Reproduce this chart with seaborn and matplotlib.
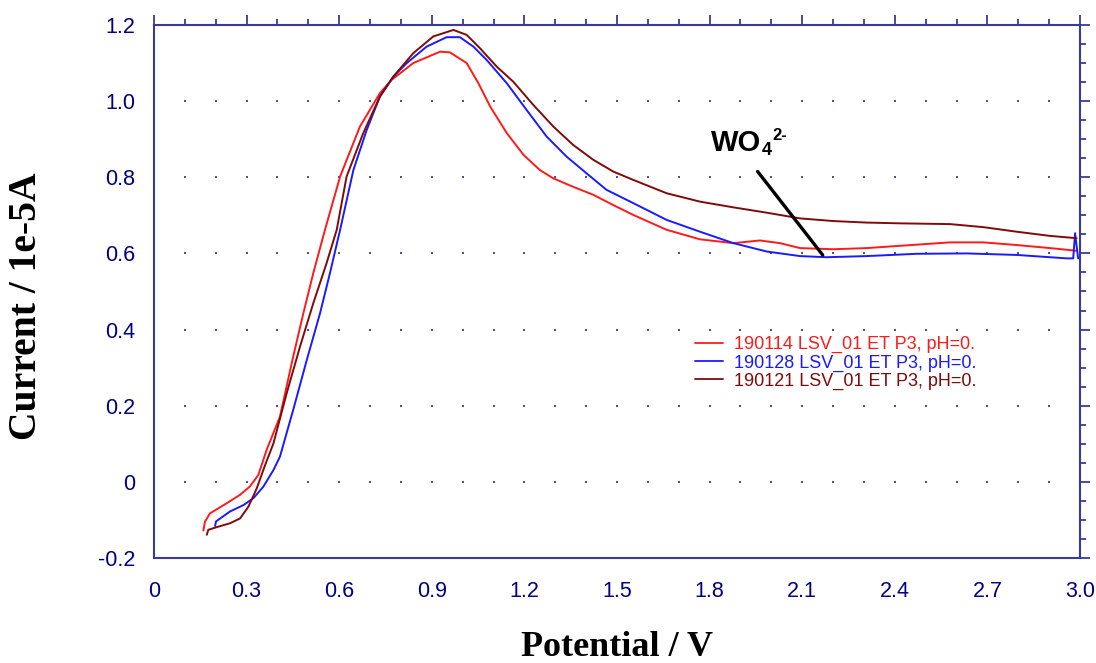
import numpy as np
import pandas as pd
import matplotlib
matplotlib.use('Agg')
import matplotlib.pyplot as plt
import seaborn as sns
from matplotlib.ticker import MultipleLocator, FuncFormatter

# Series (potential in V, current in 1e-5 A)
red_label = '190114 LSV_01 ET P3, pH=0.'
red_x = [0.160, 0.165, 0.181, 0.236, 0.279, 0.311, 0.338, 0.365, 0.408, 0.451,
         0.484, 0.516, 0.554, 0.603, 0.667, 0.732, 0.770, 0.840, 0.927, 0.959,
         1.013, 1.051, 1.089, 1.143, 1.197, 1.250, 1.294, 1.358, 1.423, 1.488,
         1.553, 1.661, 1.769, 1.877, 1.963, 2.028, 2.093, 2.201, 2.309, 2.417,
         2.579, 2.687, 2.795, 2.903, 2.989]
red_y = [-0.128, -0.105, -0.083, -0.056, -0.034, -0.012, 0.018, 0.084, 0.171, 0.329,
         0.443, 0.548, 0.662, 0.802, 0.933, 1.021, 1.056, 1.100, 1.130, 1.128,
         1.100, 1.047, 0.986, 0.916, 0.859, 0.819, 0.797, 0.775, 0.754, 0.727,
         0.701, 0.662, 0.637, 0.627, 0.634, 0.627, 0.614, 0.611, 0.614, 0.620,
         0.629, 0.629, 0.622, 0.614, 0.607]

blue_label = '190128 LSV_01 ET P3, pH=0.'
blue_x = [0.198, 0.201, 0.246, 0.290, 0.322, 0.354, 0.387, 0.408, 0.451, 0.495,
          0.538, 0.570, 0.603, 0.646, 0.689, 0.732, 0.775, 0.819, 0.883, 0.948,
          0.991, 1.035, 1.078, 1.143, 1.207, 1.272, 1.337, 1.402, 1.466, 1.553,
          1.661, 1.769, 1.877, 1.985, 2.093, 2.179, 2.309, 2.471, 2.633, 2.795,
          2.957, 2.978, 2.984, 2.994]
blue_y = [-0.116, -0.104, -0.078, -0.061, -0.043, -0.013, 0.031, 0.066, 0.189, 0.320,
          0.443, 0.548, 0.662, 0.819, 0.924, 1.012, 1.064, 1.100, 1.143, 1.168,
          1.168, 1.143, 1.108, 1.047, 0.977, 0.907, 0.854, 0.810, 0.767, 0.732,
          0.688, 0.657, 0.627, 0.605, 0.593, 0.590, 0.593, 0.599, 0.600, 0.596,
          0.587, 0.587, 0.653, 0.587]

brown_label = '190121 LSV_01 ET P3, pH=0.'
brown_x = [0.171, 0.176, 0.203, 0.246, 0.279, 0.306, 0.333, 0.360, 0.387, 0.430,
           0.473, 0.516, 0.559, 0.592, 0.624, 0.678, 0.732, 0.775, 0.840, 0.905,
           0.970, 1.013, 1.056, 1.110, 1.164, 1.229, 1.294, 1.358, 1.423, 1.488,
           1.553, 1.661, 1.769, 1.877, 1.985, 2.093, 2.201, 2.309, 2.417, 2.579,
           2.687, 2.795, 2.903, 2.989]
brown_y = [-0.139, -0.126, -0.119, -0.109, -0.096, -0.065, -0.017, 0.044, 0.101, 0.233,
           0.355, 0.469, 0.574, 0.662, 0.802, 0.916, 1.012, 1.064, 1.126, 1.170,
           1.187, 1.174, 1.139, 1.091, 1.051, 0.990, 0.933, 0.885, 0.846, 0.815,
           0.793, 0.758, 0.736, 0.721, 0.707, 0.692, 0.685, 0.681, 0.679, 0.677,
           0.669, 0.657, 0.646, 0.640]

x_ticks = [0, 0.3, 0.6, 0.9, 1.2, 1.5, 1.8, 2.1, 2.4, 2.7, 3.0]
y_ticks = [-0.2, 0, 0.2, 0.4, 0.6, 0.8, 1.0, 1.2]

# annotation for the tungstate feature: label pieces and pointer line
ann_pos = (1.805, 0.87)
ann_from = (1.95, 0.821)
ann_to = (2.172, 0.590)

colors = {red_label: '#ff1a1a', blue_label: '#1a1aff', brown_label: '#800a0a'}
axis_col = '#3a3a9c'
label_col = '#000080'

df = pd.concat([
    pd.DataFrame({'Potential': red_x, 'Current': red_y, 'run': red_label}),
    pd.DataFrame({'Potential': blue_x, 'Current': blue_y, 'run': blue_label}),
    pd.DataFrame({'Potential': brown_x, 'Current': brown_y, 'run': brown_label}),
], ignore_index=True)

sns.set_style('white')
plt.rcParams['font.family'] = ['Liberation Sans', 'DejaVu Sans']

fig = plt.figure(figsize=(10.96, 6.63), dpi=100)
ax = fig.add_axes([0.1405, 0.1584, 0.8449, 0.8039])

# dotted grid: points at every 0.1 V on each major current line
gx, gy = np.meshgrid(np.arange(1, 30) / 10, np.array(y_ticks[1:-1]))
ax.scatter(gx.ravel(), gy.ravel(), s=1.5, color='#50509a', marker='s', lw=0, zorder=1)

sns.lineplot(data=df, x='Potential', y='Current', hue='run', palette=colors,
             sort=False, estimator=None, linewidth=1.4, ax=ax, zorder=3)

ax.set_xlim(0, 3.0)
ax.set_ylim(-0.2, 1.2)
ax.set_xticks(x_ticks)
ax.set_yticks(y_ticks)
ax.xaxis.set_minor_locator(MultipleLocator(0.1))
ax.yaxis.set_minor_locator(MultipleLocator(0.05))
fmt = FuncFormatter(lambda v, p: '0' if abs(v) < 1e-9 else f'{v:.1f}')
ax.xaxis.set_major_formatter(fmt)
ax.yaxis.set_major_formatter(fmt)

for s in ax.spines.values():
    s.set_color(axis_col)
    s.set_linewidth(1.5)
ax.tick_params(which='both', direction='out', top=True, right=True,
               color=axis_col, width=1.3, labelcolor=label_col, labelsize=15.5)
ax.tick_params(which='major', length=7.5)
ax.tick_params(which='minor', length=4)
ax.tick_params(axis='x', pad=9)
ax.tick_params(axis='y', pad=6)

ax.set_xlabel('Potential / V', family='Liberation Serif', fontweight='bold',
              fontsize=26, labelpad=21, color='black')
ax.set_ylabel('Current / 1e-5A', family='Liberation Serif', fontweight='bold',
              fontsize=28.5, color='black')
ax.yaxis.set_label_coords(-0.1175, 0.473)

ax.annotate('', xy=ann_to, xytext=ann_from,
            arrowprops=dict(arrowstyle='-', color='black', lw=2.4))
t_wo = ax.text(*ann_pos, 'WO', fontsize=21, fontweight='bold', color='black',
               ha='left', va='baseline')
ax.annotate('4', xy=(1, ann_pos[1]), xycoords=(t_wo, 'data'), xytext=(0, -4),
            textcoords='offset pixels', fontsize=13, fontweight='bold',
            color='black', ha='left', va='baseline')
ax.annotate('2-', xy=(1, ann_pos[1]), xycoords=(t_wo, 'data'), xytext=(11, 11),
            textcoords='offset pixels', fontsize=12, fontweight='bold',
            color='black', ha='left', va='baseline')

leg = ax.legend(loc='upper left', bbox_to_anchor=(0.575, 0.433), frameon=False,
                fontsize=13, handlelength=1.55, handletextpad=0.6,
                labelspacing=0.05, borderpad=0, labelcolor='linecolor')
for line in leg.get_lines():
    line.set_linewidth(1.3)

fig.savefig('out.png', dpi=100)
